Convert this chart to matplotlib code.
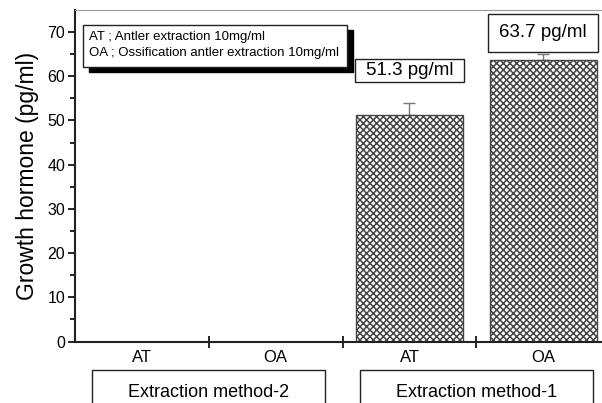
import matplotlib.pyplot as plt
import numpy as np
from matplotlib.patches import Rectangle
from matplotlib.transforms import blended_transform_factory

plt.rcParams["font.family"] = ["Liberation Sans", "DejaVu Sans"]

# growth hormone per sample; method-2 was not measured
categories = ["AT", "OA", "AT", "OA"]
gh_values = [np.nan, np.nan, 51.3, 63.7]
gh_errors = [np.nan, np.nan, 2.7, 1.3]
groups = ["Extraction method-2", "Extraction method-1"]
legend_lines = [
    "AT ; Antler extraction 10mg/ml",
    "OA ; Ossification antler extraction 10mg/ml",
]

x = np.arange(len(categories))
values = np.array(gh_values, dtype=float)
errors = np.array(gh_errors, dtype=float)
measured = ~np.isnan(values)

fig = plt.figure(figsize=(6.02, 4.03), dpi=100)
ax = fig.add_axes([0.1246, 0.1526, 0.889, 0.8226])

ax.errorbar(
    x[measured], values[measured],
    yerr=[np.zeros(measured.sum()), errors[measured]],
    fmt="none", ecolor="#777777", elinewidth=1.0,
    capsize=4.4, capthick=1.0, zorder=1,
)
plt.rcParams["hatch.linewidth"] = 1.1
plt.rcParams["hatch.color"] = "#2a2a2a"
ax.bar(
    x[measured], values[measured], width=0.8,
    color="white", edgecolor="#444444", linewidth=1.0,
    hatch="xxxxx", zorder=2,
)

# value boxes above the bars
box_centers = {2: 61.3, 3: 69.8}
box_heights = {2: 5.0, 3: 8.6}
for i in np.where(measured)[0]:
    yc = box_centers[i]
    h = box_heights[i]
    ax.add_patch(Rectangle(
        (x[i] - 0.41, yc - h / 2), 0.82, h,
        facecolor="white", edgecolor="#222222", linewidth=1.0,
        zorder=3, clip_on=False,
    ))
    ax.text(x[i], yc, f"{values[i]:.1f} pg/ml", ha="center",
            va="center", fontsize=13.5, zorder=4)

# legend box with drop shadow
ax.add_patch(Rectangle((0.026, 0.813), 0.493, 0.127, transform=ax.transAxes,
                       facecolor="black", edgecolor="black", zorder=3))
ax.add_patch(Rectangle((0.015, 0.828), 0.493, 0.127, transform=ax.transAxes,
                       facecolor="white", edgecolor="#222222",
                       linewidth=1.0, zorder=4))
for k, line in enumerate(legend_lines):
    ax.text(0.026, 0.920 - k * 0.049, line, transform=ax.transAxes,
            fontsize=9.5, va="center", ha="left", zorder=5)

ax.set_xlim(-0.5, 3.5)
ax.set_ylim(0, 75)
ax.set_yticks(np.arange(0, 71, 10))
ax.set_yticks(np.arange(5, 75, 10), minor=True)
ax.tick_params(axis="y", which="major", direction="out", length=5,
               width=1.2, labelsize=11.5, pad=2)
ax.tick_params(axis="y", which="minor", direction="out", length=3.5,
               width=1.2)

ax.set_xticks([0.5, 1.5, 2.5])
ax.set_xticklabels([])
ax.set_xticks(x, minor=True)
ax.set_xticklabels(categories, minor=True)
ax.tick_params(axis="x", which="major", direction="inout", length=8,
               width=1.2)
ax.tick_params(axis="x", which="minor", length=0, labelsize=12, pad=6)

ax.spines["left"].set_linewidth(1.5)
ax.spines["bottom"].set_linewidth(1.5)
ax.spines["left"].set_color("#222222")
ax.spines["bottom"].set_color("#222222")
ax.spines["top"].set_color("#999999")
ax.spines["top"].set_linewidth(0.8)
ax.spines["right"].set_visible(False)

ax.set_ylabel("Growth hormone (pg/ml)", fontsize=16.5, labelpad=6)

# group boxes under the category labels
trans = blended_transform_factory(ax.transData, fig.transFigure)
for g, name in enumerate(groups):
    center = 0.5 + 2 * g
    fig.patches.append(Rectangle(
        (center - 0.87, -0.1), 1.74, 0.182, transform=trans,
        facecolor="none", edgecolor="#222222", linewidth=1.0,
    ))
    fig.text(center, 0.027, name, transform=trans, ha="center",
             va="center", fontsize=13)

fig.savefig("out.png", dpi=100)
